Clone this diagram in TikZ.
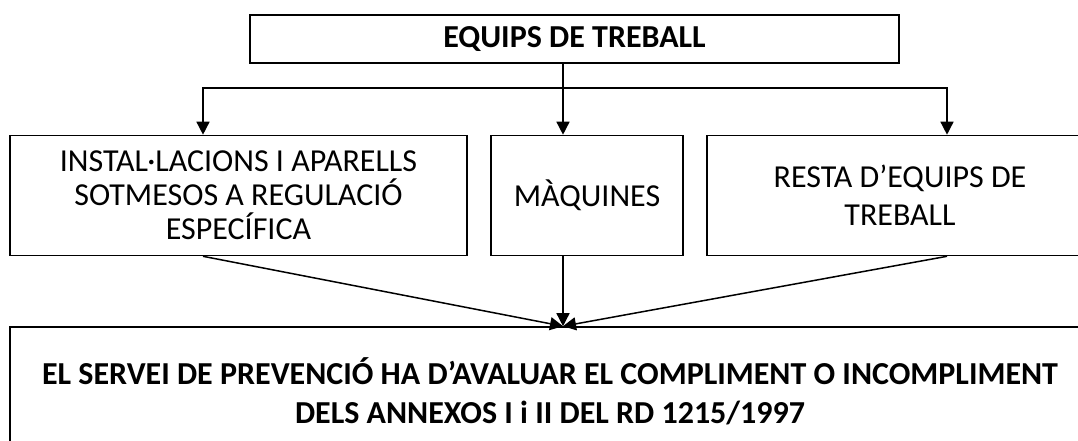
\documentclass[tikz,border=0pt]{standalone}
\usepackage{fontspec}
\setmainfont{Carlito}
\usetikzlibrary{
  arrows.meta,
  positioning}

\begin{document}
\begin{tikzpicture}[x=1pt,y=-1pt]
\tikzset{
  box/.style={
    draw,
    line width=1.6pt,
    align=center,
    inner sep=0pt,
    font=\fontsize{32}{34}\selectfont},
  bold/.style={font=\fontsize{32}{34}\selectfont\bfseries},
  link/.style={
    line width=1.5pt,
    -{Triangle[length=13pt,width=13pt]}}
}
\useasboundingbox (0,0) rectangle (1078,441);
\clip (0,0) rectangle (1078,441);

\node[box, bold, minimum width=649pt, minimum height=48pt]
  (equips) at (574.5,39) {EQUIPS DE TREBALL};

\node[box, minimum width=457pt, minimum height=120pt]
  (inst) at (238.5,195.5)
  {INSTAL·LACIONS I APARELLS\\SOTMESOS A REGULACIÓ\\ESPECÍFICA};
\node[box, minimum width=192pt, minimum height=120pt]
  (maq) at (587,195.5) {MÀQUINES};
\node[box, minimum width=386pt, minimum height=120pt]
  (resta) at (900,195.5) {RESTA D’EQUIPS DE\\[4pt]TREBALL};

\node[box, bold, minimum width=1080pt, minimum height=128pt]
  (avalua) at (550,391)
  {EL SERVEI DE PREVENCIÓ HA D’AVALUAR EL COMPLIMENT O INCOMPLIMENT\\[5pt]
   DELS ANNEXOS I i II DEL RD 1215/1997};

\coordinate (split) at (563,88);
\coordinate (brL) at (203,88);
\coordinate (brR) at (947,88);
\coordinate (meet) at (split |- avalua.north);

% branching
\draw[line width=1.5pt] (equips.south -| split) -- (split);
\draw[link] (split) -- (split |- maq.north);
\draw[link] (split) -| (brL |- inst.north);
\draw[link] (split) -| (brR |- resta.north);

% converging
\draw[link] (brL |- inst.south) -- (meet);
\draw[link] (split |- maq.south) -- (meet);
\draw[link] (brR |- resta.south) -- (meet);
\end{tikzpicture}
\end{document}
